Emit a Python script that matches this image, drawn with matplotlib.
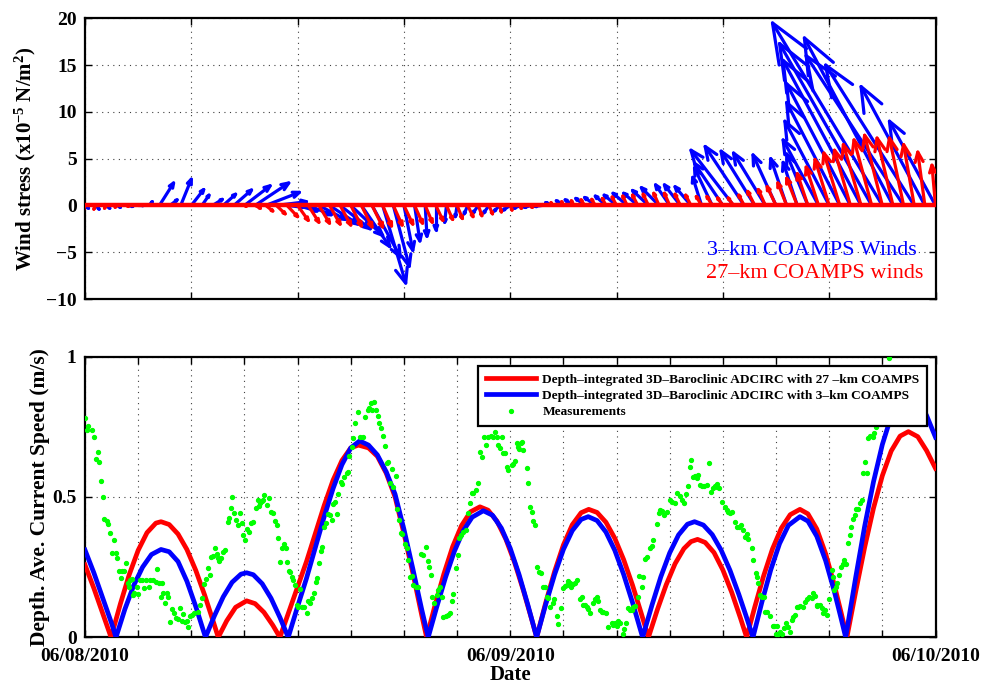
import numpy as np
import matplotlib
matplotlib.use("Agg")
import matplotlib.pyplot as plt
from matplotlib.collections import LineCollection

plt.rcParams['font.family'] = ['Liberation Serif', 'DejaVu Serif']
plt.rcParams['font.weight'] = 'bold'
plt.rcParams['axes.labelweight'] = 'bold'
plt.rcParams['mathtext.fontset'] = 'custom'
plt.rcParams['mathtext.rm'] = 'Liberation Serif:bold'
plt.rcParams['mathtext.bf'] = 'Liberation Serif:bold'
plt.rcParams['mathtext.default'] = 'bf'
plt.rcParams['axes.unicode_minus'] = True

# ---- wind stress vectors (every 0.6 h from 06/08 00:00), x-part in hours, y-part in 1e-5 N/m2
arrow_step = 0.6
blue_u = [0.2, 0.2, 0.2, 0.2, 0.3, 0.3, 0.2, 0.8, 0.4, 0.6,
          0.7, 0.4, 0.55, 0.7, 1.0, 1.45, 1.9, 1.9, 1.7, 0.9,
          1.1, 1.3, 1.5, 1.6, 1.7, 1.8, 1.6, 1.6, 1.3, 0.9,
          0.5, 0.3, 0.1, 0.0, -0.1, -0.1, -0.2, -0.3, -0.3, -0.3,
          -0.4, -0.4, -0.4, -0.4, -0.4, -0.4, -0.5, -0.5, -0.6, -0.6,
          -0.7, -0.8, -0.8, -0.9, -1.0, -0.8, -0.9, -0.9, -0.5, -1.0,
          -1.6, -2.4, -2.2, -1.9, -1.8, -1.3, -0.9, -0.8, -1.2, -2.0,
          -2.5, -3.0, -3.6, -4.4, -5.2, -6.2, -5.0, -5.5, -5.0, -3.6,
          -2.6]
blue_v = [-0.3, -0.4, -0.3, -0.2, -0.1, 0.0, 0.4, 2.4, 0.6, 2.8,
          1.7, 1.1, 0.65, 1.2, 1.65, 2.1, 2.4, 1.4, 0.4, -0.2,
          -0.6, -1.0, -1.5, -2.0, -2.5, -3.2, -4.4, -5.5, -8.3, -6.5,
          -4.8, -3.8, -3.3, -2.6, -1.8, -1.2, -0.9, -0.8, -0.8, -0.6,
          -0.5, -0.3, -0.2, -0.1, 0.3, 0.5, 0.6, 0.75, 0.85, 1.0,
          1.1, 1.3, 1.3, 1.6, 1.9, 2.2, 2.2, 2.0, 3.0, 4.0,
          4.5, 5.9, 6.3, 5.8, 5.6, 5.4, 5.0, 4.6, 5.5, 7.0,
          9.0, 11.0, 13.0, 15.5, 17.3, 19.5, 17.9, 16.0, 15.0, 12.7,
          9.0]
red_u = [-0.1, -0.1, -0.1, -0.1, 0.0, 0.0, 0.0, 0.0, 0.0, 0.0,
         0.0, 0.0, 0.0, 0.0, 0.0, 0.1, 0.3, 0.4, 0.5, 0.6,
         0.6, 0.6, 0.6, 0.6, 0.6, 0.6, 0.6, 0.6, 0.5, 0.5,
         0.5, 0.45, 0.4, 0.4, 0.35, 0.3, 0.3, 0.2, 0.2, 0.1,
         0.1, 0.0, 0.0, 0.0, -0.1, -0.1, -0.15, -0.2, -0.2, -0.2,
         -0.25, -0.25, -0.3, -0.3, -0.3, -0.3, -0.3, -0.3, -0.3, -0.3,
         -0.3, -0.3, -0.3, -0.4, -0.4, -0.5, -0.5, -0.6, -0.6, -0.7,
         -0.8, -0.9, -0.9, -1.0, -1.0, -1.0, -0.9, -0.8, -0.6, -0.4,
         -0.2]
red_v = [-0.5, -0.4, -0.3, -0.2, -0.1, 0.0, 0.0, 0.0, 0.0, 0.0,
         0.0, 0.0, 0.0, 0.0, 0.0, -0.1, -0.3, -0.6, -0.9, -1.2,
         -1.6, -1.8, -1.9, -2.0, -2.1, -2.2, -2.3, -2.3, -2.2, -2.1,
         -2.0, -1.9, -1.8, -1.6, -1.5, -1.4, -1.2, -1.1, -0.9, -0.7,
         -0.5, -0.3, -0.2, 0.1, 0.3, 0.4, 0.5, 0.6, 0.65, 0.75,
         0.9, 1.0, 1.1, 1.2, 1.3, 1.3, 1.2, 1.1, 0.95, 0.95,
         0.8, 0.8, 1.1, 1.5, 1.7, 2.0, 2.4, 2.9, 3.4, 4.1,
         4.9, 5.6, 5.9, 6.5, 7.0, 7.5, 7.2, 7.2, 6.5, 5.7,
         4.3]

# ---- depth-averaged current speed (m/s), time in hours
red_t = [0, 0.5, 1.0, 1.47, 2.0, 2.5, 3.0, 3.5, 4.0, 4.29, 4.75, 5.25, 5.75, 6.25, 6.75, 7.25, 7.52,
         8.0, 8.5, 9.12, 9.6, 10.1, 10.6, 11.0,
         11.5, 12.0, 12.5, 13.0, 13.5, 14.0, 14.5, 15.0, 15.43, 16.0, 16.5, 17.0, 17.5, 18.0, 18.5, 19.0, 19.28,
         19.75, 20.25, 20.75, 21.25, 21.75, 22.29, 22.75, 23.25, 23.75, 24.25, 24.75, 25.25, 25.49,
         26.0, 26.5, 27.0, 27.5, 28.0, 28.43, 28.9, 29.4, 29.9, 30.4, 30.9, 31.4, 31.8,
         32.3, 32.8, 33.3, 33.8, 34.2, 34.57, 35.0, 35.5, 36.0, 36.5, 37.0, 37.34,
         37.8, 38.3, 38.8, 39.3, 39.8, 40.35, 40.8, 41.3, 41.8, 42.3, 42.7, 43.0,
         43.5, 44.0, 44.5, 45.0, 45.5, 46.0, 46.47, 47.0, 47.5, 48.0]
red_speed = [0.258, 0.175, 0.085, 0.0, 0.12, 0.224, 0.31, 0.373, 0.407, 0.412, 0.402, 0.368, 0.313, 0.239, 0.151, 0.054, 0.0,
             0.059, 0.107, 0.13, 0.12, 0.089, 0.043, 0.0,
             0.09, 0.18, 0.27, 0.37, 0.47, 0.56, 0.63, 0.675, 0.685, 0.675, 0.645, 0.585, 0.50, 0.37, 0.23, 0.08, 0.0,
             0.113, 0.225, 0.323, 0.398, 0.447, 0.465, 0.453, 0.414, 0.35, 0.266, 0.165, 0.055, 0.0,
             0.123, 0.234, 0.329, 0.401, 0.444, 0.456, 0.445, 0.41, 0.353, 0.277, 0.186, 0.084, 0.0,
             0.098, 0.187, 0.262, 0.316, 0.341, 0.349, 0.338, 0.302, 0.24, 0.16, 0.067, 0.0,
             0.108, 0.219, 0.315, 0.389, 0.437, 0.456, 0.44, 0.386, 0.298, 0.184, 0.081, 0.0,
             0.164, 0.32, 0.46, 0.576, 0.664, 0.717, 0.733, 0.715, 0.665, 0.602]
blue_t = [0, 0.5, 1.0, 1.5, 1.75, 2.25, 2.75, 3.25, 3.75, 4.29, 4.75, 5.25, 5.75, 6.25, 6.8,
          7.3, 7.8, 8.3, 8.8, 9.12, 9.5, 10.0, 10.5, 11.0, 11.47,
          12.0, 12.5, 13.0, 13.5, 14.0, 14.5, 15.0, 15.5, 16.0, 16.5, 17.0, 17.5, 18.0, 18.5, 19.0, 19.37,
          19.85, 20.35, 20.85, 21.35, 21.85, 22.48, 23.0, 23.5, 24.0, 24.5, 25.0, 25.49,
          26.0, 26.5, 27.0, 27.5, 28.0, 28.4, 28.9, 29.4, 29.9, 30.4, 30.9, 31.47,
          32.0, 32.5, 33.0, 33.5, 34.0, 34.4, 34.9, 35.4, 35.9, 36.4, 36.9, 37.3, 37.7,
          38.2, 38.7, 39.2, 39.7, 40.35, 40.8, 41.3, 41.8, 42.3, 42.7, 42.93,
          43.5, 44.0, 44.5, 45.0, 45.5, 46.0, 46.5, 47.0, 47.5, 48.0]
blue_speed = [0.311, 0.23, 0.14, 0.05, 0.0, 0.10, 0.185, 0.25, 0.295, 0.313, 0.305, 0.27, 0.20, 0.11, 0.0,
              0.076, 0.144, 0.196, 0.225, 0.23, 0.223, 0.191, 0.139, 0.071, 0.0,
              0.11, 0.21, 0.32, 0.43, 0.53, 0.615, 0.675, 0.70, 0.685, 0.65, 0.59, 0.51, 0.385, 0.245, 0.10, 0.0,
              0.108, 0.214, 0.307, 0.38, 0.428, 0.451, 0.435, 0.389, 0.317, 0.223, 0.114, 0.0,
              0.117, 0.223, 0.313, 0.38, 0.42, 0.43, 0.416, 0.375, 0.31, 0.224, 0.124, 0.0,
              0.115, 0.216, 0.301, 0.365, 0.403, 0.412, 0.40, 0.366, 0.311, 0.239, 0.153, 0.078, 0.0,
              0.125, 0.24, 0.334, 0.399, 0.43, 0.414, 0.36, 0.273, 0.161, 0.06, 0.0,
              0.215, 0.395, 0.554, 0.687, 0.788, 0.849, 0.87, 0.85, 0.79, 0.713]

meas_t = [0.00, 0.19, 0.09, 0.38, 0.53, 0.71, 0.60, 0.81, 0.90, 1.03, 1.09, 1.22, 1.28, 1.41, 1.64, 1.50,
          1.73, 1.82, 1.92, 2.07, 2.22, 2.29, 2.01, 2.41, 2.54, 2.63, 2.48, 2.78, 2.73, 2.92, 3.01, 3.10,
          3.24, 3.42, 3.35, 3.67, 3.61, 3.86, 3.99, 4.04, 4.18, 4.33, 4.29, 4.42, 4.51, 4.61, 4.70, 4.80,
          4.93, 5.04, 5.12, 5.23, 5.36, 5.46, 5.55, 5.64, 5.74, 5.83, 5.93, 6.02, 6.17, 6.40, 6.49, 6.62,
          6.73, 6.81, 6.92, 7.05, 7.11, 7.24, 7.34, 7.43, 7.49, 7.58, 7.67, 7.81, 7.90, 8.05, 8.13, 8.24,
          8.31, 8.43, 8.50, 8.62, 8.75, 8.84, 8.94, 9.03, 9.12, 9.26, 9.35, 9.50, 9.63, 9.74, 9.82, 9.88,
          9.97, 10.06, 10.12, 10.25, 10.38, 10.50, 10.63, 10.72, 10.82, 10.91, 11.00, 11.14, 11.25, 11.34,
          11.42, 11.51, 11.57, 11.66, 11.76, 11.85, 11.95, 12.04,
          12.13, 12.23, 12.38, 12.51, 12.60, 12.70, 12.83, 12.94, 13.02, 13.11, 13.20, 13.32, 13.39, 13.51,
          13.60, 13.73, 13.83, 13.92, 14.01, 14.11, 14.20, 14.30, 14.45, 14.52, 14.63, 14.77, 14.82, 14.90,
          15.05, 15.14, 15.24, 15.42, 15.52, 15.71, 15.80, 15.95, 16.03, 16.14, 16.21, 16.33, 16.42, 16.52,
          16.59, 16.70, 16.84, 16.93, 17.02, 17.12, 17.21, 17.31, 17.40, 17.53, 17.61, 17.72, 17.83, 17.91,
          18.06, 18.15, 18.25, 18.34, 18.47, 18.53, 18.66, 18.77, 18.96, 19.09, 19.22, 19.34, 19.43, 19.52,
          19.60, 19.71, 19.84, 19.94, 20.03, 20.12, 20.22, 20.35, 20.47, 20.60, 20.69, 20.79, 20.92, 21.03,
          21.10, 21.22, 21.35, 21.48, 21.63, 21.73, 21.82, 21.91, 22.05, 22.16, 22.29, 22.42, 22.53, 22.61,
          22.72, 22.91, 23.04, 23.14, 23.23, 23.33, 23.42, 23.51, 23.61, 23.70, 23.79, 23.89,
          24.08, 24.17, 24.27, 24.36, 24.45, 24.51, 24.59, 24.64, 24.74, 24.92, 25.02, 25.11, 25.21, 25.26,
          25.39, 25.49, 25.64, 25.71, 25.86, 25.96, 26.05, 26.15, 26.24, 26.39, 26.47, 26.62, 26.71, 26.84,
          26.99, 27.09, 27.18, 27.28, 27.37, 27.41, 27.56, 27.65, 27.78, 27.93, 28.03, 28.12, 28.22, 28.31,
          28.40, 28.50, 28.69, 28.78, 28.87, 28.97, 29.06, 29.16, 29.25, 29.40, 29.53, 29.72, 29.81, 29.91,
          30.00, 30.10, 30.19, 30.34, 30.42, 30.53, 30.66, 30.75, 30.85, 30.94, 31.04, 31.23, 31.28, 31.41,
          31.47, 31.60, 31.70, 31.88, 31.98, 32.07, 32.26, 32.39, 32.45, 32.54, 32.67, 32.82, 33.01, 33.11,
          33.29, 33.43, 33.58, 33.67, 33.80, 33.92, 34.05, 34.14, 34.18, 34.33, 34.42, 34.52, 34.61, 34.71,
          34.80, 34.93, 35.08, 35.23, 35.31, 35.46, 35.55, 35.65, 35.68, 35.80, 35.93, 36.12, 36.21, 36.30,
          36.40, 36.49, 36.68, 36.77, 36.93, 37.00, 37.11, 37.25, 37.34, 37.43, 37.62, 37.71, 37.87, 37.94,
          38.00, 38.09, 38.19, 38.32, 38.37, 38.51, 38.66, 38.81, 38.88, 38.99, 39.07, 39.13, 39.22, 39.31,
          39.45, 39.56, 39.69, 39.78, 39.88, 39.97, 40.07, 40.16, 40.25, 40.35, 40.54, 40.63, 40.76, 40.88,
          41.01, 41.10, 41.20, 41.29, 41.33, 41.48, 41.57, 41.67, 41.76, 41.85, 42.00, 42.14, 42.19, 42.27,
          42.38, 42.46, 42.57, 42.64, 42.76, 42.83, 42.94, 43.08, 43.17, 43.21, 43.36, 43.45, 43.51, 43.64,
          43.73, 43.83, 43.89, 44.02, 44.11, 44.20, 44.30, 44.45, 44.52, 44.64, 45.39]
meas_v = [0.78, 0.753, 0.739, 0.739, 0.713, 0.662, 0.634, 0.625, 0.558, 0.499, 0.42, 0.416, 0.404, 0.373, 0.347, 0.302,
          0.302, 0.282, 0.236, 0.236, 0.236, 0.264, 0.213, 0.195, 0.204, 0.207, 0.181, 0.159, 0.151, 0.181, 0.154, 0.204,
          0.204, 0.204, 0.175, 0.204, 0.178, 0.204, 0.198, 0.242, 0.192, 0.195, 0.145, 0.159, 0.121, 0.157, 0.143, 0.056,
          0.10, 0.088, 0.068, 0.064, 0.103, 0.059, 0.083, 0.056, 0.059, 0.038, 0.076, 0.08, 0.086, 0.091, 0.115, 0.139,
          0.189, 0.207, 0.246, 0.222, 0.287, 0.291, 0.32, 0.297, 0.282, 0.273, 0.282, 0.305, 0.311, 0.412, 0.424, 0.462,
          0.499, 0.444, 0.418, 0.40, 0.444, 0.406, 0.365, 0.345, 0.385, 0.377, 0.409, 0.412, 0.46, 0.489, 0.468, 0.478,
          0.487, 0.489, 0.507, 0.472, 0.495, 0.448, 0.444, 0.416, 0.40, 0.353, 0.27, 0.317, 0.333, 0.317,
          0.267, 0.238, 0.234, 0.214, 0.204, 0.187, 0.115, 0.109,
          0.171, 0.109, 0.107, 0.088, 0.131, 0.124, 0.139, 0.159, 0.198, 0.213, 0.266, 0.308, 0.321, 0.394,
          0.406, 0.438, 0.436, 0.418, 0.475, 0.483, 0.438, 0.511, 0.554, 0.546, 0.573, 0.587, 0.59, 0.646,
          0.679, 0.71, 0.765, 0.804, 0.713, 0.713, 0.784, 0.81, 0.816, 0.836, 0.81, 0.84, 0.81, 0.789,
          0.763, 0.747, 0.718, 0.682, 0.62, 0.626, 0.549, 0.601, 0.537, 0.575, 0.456, 0.418, 0.371, 0.368,
          0.331, 0.317, 0.276, 0.216, 0.219, 0.187, 0.181, 0.178, 0.297, 0.293, 0.321, 0.273, 0.249, 0.222,
          0.145, 0.121, 0.151, 0.169, 0.178, 0.145, 0.074, 0.076, 0.08, 0.088, 0.131, 0.154, 0.246, 0.293,
          0.353, 0.365, 0.377, 0.383, 0.442, 0.478, 0.516, 0.516, 0.525, 0.549, 0.662, 0.641, 0.713, 0.685,
          0.713, 0.717, 0.713, 0.733, 0.713, 0.685, 0.674, 0.713, 0.656, 0.658, 0.608, 0.596,
          0.614, 0.618, 0.629, 0.691, 0.679, 0.67, 0.694, 0.697, 0.668, 0.602, 0.551, 0.466, 0.448, 0.416,
          0.40, 0.252, 0.234, 0.228, 0.18, 0.18, 0.145, 0.139, 0.107, 0.121, 0.135, 0.076, 0.047, 0.103,
          0.174, 0.183, 0.186, 0.202, 0.195, 0.18, 0.19, 0.192, 0.204, 0.135, 0.145, 0.115, 0.115, 0.107,
          0.10, 0.085, 0.121, 0.135, 0.142, 0.13, 0.097, 0.091, 0.091, 0.088, 0.038, 0.052, 0.044, 0.052,
          0.04, 0.059, 0.052, 0.012, 0.028, 0.05, 0.103, 0.097, 0.097, 0.109, 0.112, 0.145, 0.218, 0.18,
          0.214, 0.278, 0.287, 0.317, 0.325, 0.347, 0.404, 0.444, 0.454, 0.45, 0.436, 0.448, 0.489, 0.483,
          0.477, 0.515, 0.503, 0.489, 0.477, 0.511, 0.539, 0.608, 0.632, 0.572, 0.575, 0.566, 0.578, 0.543,
          0.539, 0.539, 0.543, 0.62, 0.519, 0.531, 0.539, 0.534, 0.548, 0.531, 0.483, 0.466, 0.454, 0.448,
          0.444, 0.448, 0.412, 0.394, 0.394, 0.40, 0.382, 0.358, 0.368, 0.352, 0.317, 0.275, 0.23, 0.214,
          0.195, 0.151, 0.145, 0.145, 0.091, 0.091, 0.076, 0.04, 0.04, 0.012, 0.04, 0.012, 0.02, 0.012,
          0.032, 0.052, 0.036, 0.02, 0.062, 0.074, 0.08, 0.109, 0.109, 0.112, 0.109, 0.127, 0.135, 0.145,
          0.139, 0.159, 0.147, 0.115, 0.112, 0.115, 0.103, 0.085, 0.097, 0.08, 0.135, 0.24, 0.216, 0.168,
          0.18, 0.192, 0.222, 0.249, 0.263, 0.275, 0.261, 0.335, 0.365, 0.394, 0.42, 0.436, 0.459, 0.459,
          0.48, 0.489, 0.587, 0.626, 0.587, 0.709, 0.717, 0.715, 0.727, 0.748, 0.994]

date_labels = ['06/08/2010', '06/09/2010', '06/10/2010']
legend_labels = ['Depth\u2013integrated 3D\u2013Baroclinic ADCIRC with 27 \u2013km COAMPS',
                 'Depth\u2013integrated 3D\u2013Baroclinic ADCIRC with 3\u2013km COAMPS',
                 'Measurements']

W, H = 997, 687
fig = plt.figure(figsize=(W / 100, H / 100), dpi=100)
ax1 = fig.add_axes([85 / W, 1 - 299 / H, 850.5 / W, 280.7 / H])
ax2 = fig.add_axes([85 / W, 1 - 637.3 / H, 850.5 / W, 280.6 / H])

def style_axis(ax):
    ax.tick_params(direction='in', length=5, width=1, top=True, right=True,
                   labelsize=14, pad=6)
    for s in ax.spines.values():
        s.set_linewidth(1.6)
    ax.grid(True, color='0.25', linestyle=(0, (1, 4)), linewidth=0.8)
    ax.set_axisbelow(True)

# ---- top panel: wind stress arrows
ax1.set_xlim(0, 48)
ax1.set_ylim(-10, 20)
ax1.set_xticks(np.arange(0, 49, 6))
ax1.set_xticklabels([])
ax1.set_yticks(np.arange(-10, 21, 5))
style_axis(ax1)


def arrow_segments(ax, t, u, v, head=0.2, ang=22):
    # shaft from (t, 0) to (t+u, v) plus an open V head, built in screen space
    fwd = ax.transData
    inv = ax.transData.inverted()
    c, s = np.cos(np.radians(ang)), np.sin(np.radians(ang))
    segs = []
    for ti, ui, vi in zip(t, u, v):
        p0 = fwd.transform((ti, 0.0))
        p1 = fwd.transform((ti + ui, vi))
        d = p1 - p0
        L = np.hypot(d[0], d[1])
        if L < 0.5:
            continue
        b = -d * head
        w1 = p1 + np.array([c * b[0] - s * b[1], s * b[0] + c * b[1]])
        w2 = p1 + np.array([c * b[0] + s * b[1], -s * b[0] + c * b[1]])
        segs.append(inv.transform(np.array([p0, p1])))
        segs.append(inv.transform(np.array([w1, p1, w2])))
    return segs


arrow_t = np.arange(len(blue_u)) * arrow_step
ax1.add_collection(LineCollection(arrow_segments(ax1, arrow_t, blue_u, blue_v),
                                  colors='#0000ff', linewidths=2.3, capstyle='round',
                                  joinstyle='round', zorder=3))
ax1.add_collection(LineCollection(arrow_segments(ax1, arrow_t, red_u, red_v),
                                  colors='#ff0000', linewidths=2.3, capstyle='round',
                                  joinstyle='round', zorder=4))
ax1.axhline(0, color='#ff0000', lw=3.2, zorder=5)
ax1.set_ylabel('Wind stress (x10$^{-5}$ N/m$^{2}$)', fontsize=15, labelpad=6)
ax1.text(0.978, 0.172, '3\u2013km COAMPS Winds', color='#0000ff', fontsize=16,
         fontweight='normal', ha='right', va='center', transform=ax1.transAxes)
ax1.text(0.986, 0.092, '27\u2013km COAMPS winds', color='#ff0000', fontsize=16,
         fontweight='normal', ha='right', va='center', transform=ax1.transAxes)

# ---- bottom panel: current speed
ax2.plot(red_t, red_speed, color='#ff0000', lw=3.4, label=legend_labels[0], zorder=3)
ax2.plot(blue_t, blue_speed, color='#0000ff', lw=3.4, label=legend_labels[1], zorder=4)
ax2.plot(meas_t, meas_v, linestyle='none', marker='o', ms=2.8, mfc='#00ff00',
         mec='#00ff00', label=legend_labels[2], zorder=5)
ax2.set_xlim(0, 48)
ax2.set_ylim(0, 1)
xt = np.arange(0, 49, 3)
ax2.set_xticks(xt)
ax2.set_xticklabels([date_labels[int(h) // 24] if h % 24 == 0 else '' for h in xt])
ax2.set_yticks([0, 0.5, 1])
ax2.set_yticklabels(['0', '0.5', '1'])
style_axis(ax2)
ax2.tick_params(axis='x', pad=8)
ax2.set_xlabel('Date', fontsize=15, labelpad=0)
ax2.set_ylabel('Depth. Ave. Current Speed (m/s)', fontsize=15.5, labelpad=2)

leg = ax2.legend(loc='upper right', bbox_to_anchor=(927 / W, 1 - 366 / H),
                 bbox_transform=fig.transFigure, frameon=True,
                 fancybox=False, framealpha=1, edgecolor='black', handlelength=3.8,
                 borderpad=0.55, labelspacing=0.3, handletextpad=0.45, borderaxespad=0,
                 prop={'family': 'Liberation Serif', 'weight': 'bold', 'size': 9.6})
leg.get_frame().set_linewidth(1.6)
leg.set_zorder(10)

fig.savefig('out.png', dpi=100)
